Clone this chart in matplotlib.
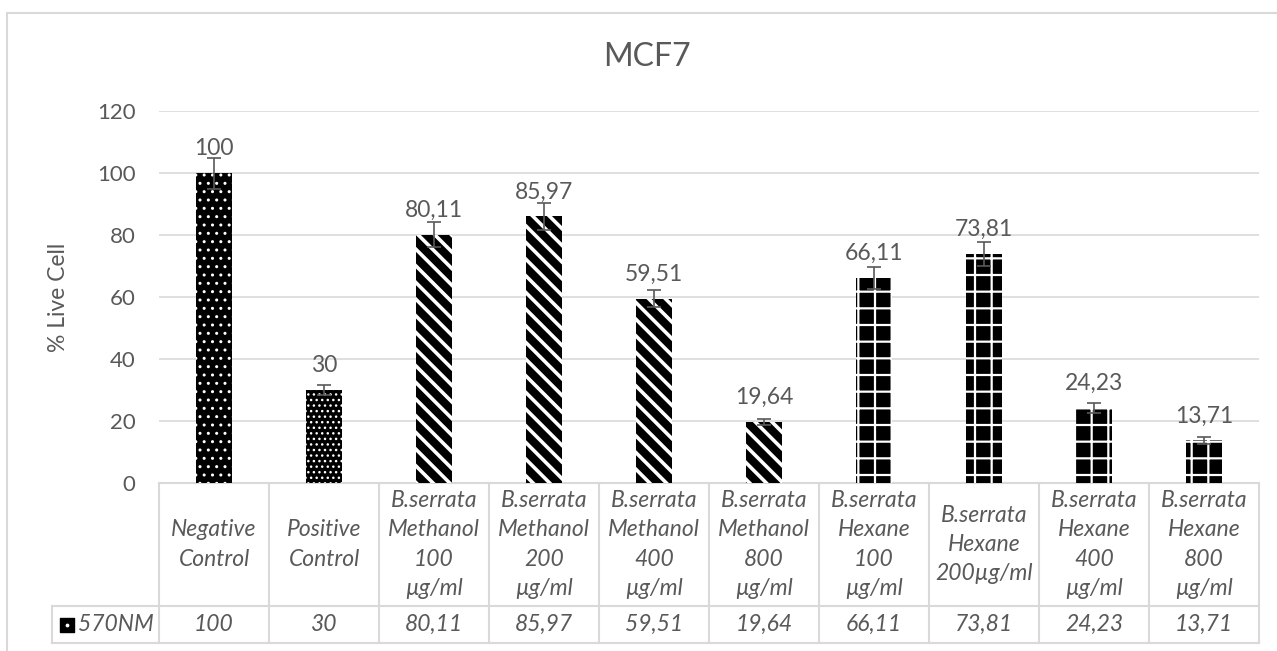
#!/usr/bin/env python3
"""MCF7 viability bar chart with an Excel-style data table underneath."""
import matplotlib
matplotlib.use("Agg")
import matplotlib.pyplot as plt
import matplotlib.transforms as mtransforms
from matplotlib.patches import Rectangle

TEXT = "#595959"
GRID = "#D9D9D9"

categories = [
    "Negative\nControl",
    "Positive\nControl",
    "B.serrata\nMethanol\n100\nµg/ml",
    "B.serrata\nMethanol\n200\nµg/ml",
    "B.serrata\nMethanol\n400\nµg/ml",
    "B.serrata\nMethanol\n800\nµg/ml",
    "B.serrata\nHexane\n100\nµg/ml",
    "B.serrata\nHexane\n200µg/ml",
    "B.serrata\nHexane\n400\nµg/ml",
    "B.serrata\nHexane\n800\nµg/ml",
]
values = [100, 30, 80.11, 85.97, 59.51, 19.64, 66.11, 73.81, 24.23, 13.71]
errors = [5, 1.5, 4, 4.5, 2.8, 0.9, 3.5, 3.9, 1.6, 1.1]
series_name = "570NM"
y_ticks = [0, 20, 40, 60, 80, 100, 120]

# hatch pattern + hatch line width per bar
HATCHES = [("..", 1.0), ("...", 1.0)] + [("\\\\", 2.6)] * 4 + [("+", 1.6)] * 4

plt.rcParams["font.family"] = ["Lato", "DejaVu Sans"]
FS = 16.5


def fmt(v):
    return f"{v:g}".replace(".", ",")


fig = plt.figure(figsize=(12.77, 6.51), dpi=100)
ax = fig.add_axes([159 / 1277, 1 - 483 / 651, 1100 / 1277, 372 / 651])

x = list(range(len(values)))
for xi, v, (h, hlw) in zip(x, values, HATCHES):
    plt.rcParams["hatch.linewidth"] = hlw
    bars = ax.bar(xi, v, width=0.33, color="black", edgecolor="white",
                  linewidth=0, hatch=h, zorder=2)
    for b in bars:
        if hasattr(b, "set_hatch_linewidth"):
            b.set_hatch_linewidth(hlw)

ax.errorbar(x, values, yerr=errors, fmt="none", ecolor=TEXT,
            elinewidth=1.2, capsize=5, capthick=1.2, zorder=3)

for xi, v in zip(x, values):
    ax.annotate(fmt(v), (xi, v), xytext=(0, 10), textcoords="offset points",
                ha="center", va="bottom", fontsize=FS, color=TEXT)

ax.set_xlim(-0.5, len(values) - 0.5)
ax.set_ylim(0, 120)
ax.set_yticks(y_ticks)
ax.set_xticks([])
ax.tick_params(axis="y", length=0, pad=17, labelsize=16, labelcolor=TEXT)
ax.grid(axis="y", color=GRID, lw=1.2, zorder=0)
ax.set_axisbelow(True)
for s in ax.spines.values():
    s.set_visible(False)

ax.set_ylabel("% Live Cell", fontsize=16.5, color=TEXT)
ax.yaxis.set_label_coords(-0.082, 0.5)

fig.text(647 / 1277, 1 - 57 / 651, "MCF7", ha="center", va="center",
         fontsize=23, color=TEXT)

# data table under the axis
tr = mtransforms.blended_transform_factory(ax.transData, ax.transAxes)
y_hdr = -(606 - 483) / 372
y_bot = -(643 - 483) / 372
x_leg = (52 - 159) / 110 - 0.5
n = len(values)
line_kw = dict(color=GRID, lw=1.5, transform=tr, clip_on=False, zorder=1)
ax.plot([-0.5, n - 0.5], [0, 0], **line_kw)
ax.plot([x_leg, n - 0.5], [y_hdr, y_hdr], **line_kw)
ax.plot([x_leg, n - 0.5], [y_bot, y_bot], **line_kw)
ax.plot([x_leg, x_leg], [y_hdr, y_bot], **line_kw)
for k in range(n + 1):
    ax.plot([k - 0.5, k - 0.5], [0, y_bot], **line_kw)

for xi, lab, v in zip(x, categories, values):
    ax.text(xi, y_hdr / 2, lab, transform=tr, ha="center", va="center",
            fontsize=FS, style="italic", color=TEXT, linespacing=1.5)
    ax.text(xi, (y_hdr + y_bot) / 2, fmt(v), transform=tr, ha="center",
            va="center", fontsize=FS, style="italic", color=TEXT)

# legend key in the table
y_mid = (y_hdr + y_bot) / 2
ax.scatter([x_leg + 0.14], [y_mid], marker="s", s=110, color="black",
           transform=tr, clip_on=False, zorder=4)
ax.scatter([x_leg + 0.14], [y_mid], marker="o", s=3, color="white",
           transform=tr, clip_on=False, zorder=5)
ax.text(x_leg + 0.235, y_mid, series_name, transform=tr, ha="left",
        va="center", fontsize=FS, style="italic", color=TEXT)

# chart-area frame
fig.patches.append(Rectangle((7 / 1277, -0.05), 1.0, 1 - 13 / 651 + 0.05,
                             transform=fig.transFigure, fill=False,
                             edgecolor=GRID, lw=1.5))

fig.savefig("out.png", dpi=100, facecolor="white")
